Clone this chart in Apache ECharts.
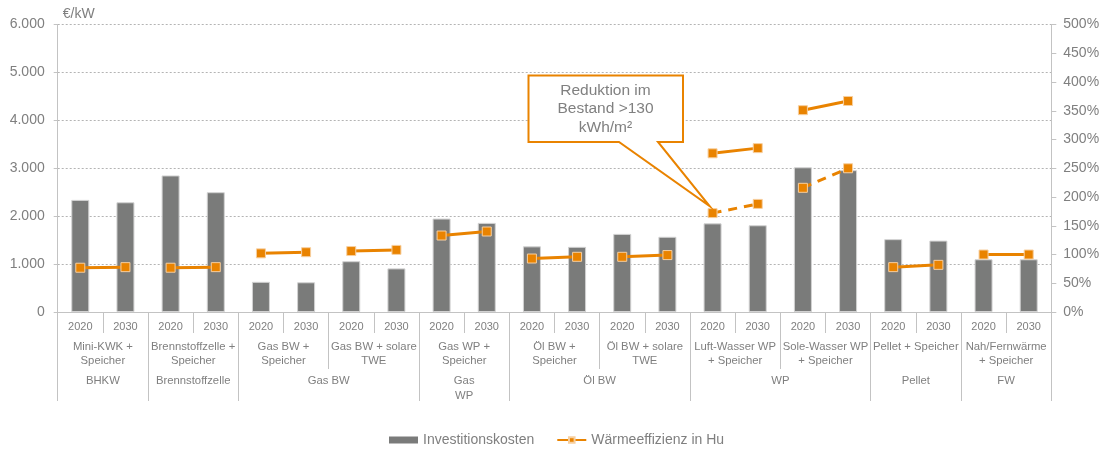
<!DOCTYPE html>
<html>
<head>
<meta charset="utf-8">
<script src="https://cdn.jsdelivr.net/npm/echarts@6/dist/echarts.min.js"></script>
<style>
  html, body { margin: 0; padding: 0; background: #ffffff; }
  #chart { width: 1106px; height: 449px; }
</style>
</head>
<body>
<div id="chart"></div>
<script>
// Year tick labels, one per bar
const years = ['2020', '2030', '2020', '2030', '2020', '2030', '2020', '2030', '2020', '2030', '2020',
               '2030', '2020', '2030', '2020', '2030', '2020', '2030', '2020', '2030', '2020', '2030'];

// Technology variants, each covering a 2020/2030 pair
const variants = ['Mini-KWK +\nSpeicher', 'Brennstoffzelle +\nSpeicher', 'Gas BW +\nSpeicher',
                  'Gas BW + solare\nTWE', 'Gas WP +\nSpeicher', 'Öl BW +\nSpeicher', 'Öl BW + solare\nTWE',
                  'Luft-Wasser WP\n+ Speicher', 'Sole-Wasser WP\n+ Speicher', 'Pellet + Speicher',
                  'Nah/Fernwärme\n+ Speicher'];

// Technology groups and how many bars each spans
const groupNames = ['BHKW', 'Brennstoffzelle', 'Gas BW', 'Gas\nWP', 'Öl BW', 'WP', 'Pellet', 'FW'];
const groupSpans = [2, 2, 4, 2, 4, 4, 2, 2];

// Investitionskosten in €/kW
const investCost = [2340, 2290, 2850, 2500, 630, 620, 1060, 910, 1950, 1860, 1370,
                    1360, 1630, 1570, 1850, 1810, 3020, 2960, 1520, 1490, 1100, 1100];

// Wärmeeffizienz in Hu (%)
const efficiency = [77, 78, 77, 78, 102, 104, 106, 108, 133, 140, 93,
                    96, 96, 99, 276, 285, 351, 367, 78, 82, 100, 100];

// Wärmeeffizienz nach Reduktion im Bestand >130 kWh/m² (%)
const efficiencyExisting = [null, null, null, null, null, null, null, null, null, null, null,
                            null, null, null, 172, 188, 216, 250, null, null, null, null];

const ORANGE = '#E98300';
const GREY_TEXT = '#7f7f7f';
const AXIS_GREY = '#c3c3c3';
const FONT = '"Liberation Sans", Arial, sans-serif';

// Group axis: 23 points on the bar boundaries, labels at each group's centre
const groupAxisLabels = new Array(years.length + 1).fill('');
const groupBoundaries = [0];
let pos = 0;
groupNames.forEach((g, i) => {
  groupAxisLabels[pos + groupSpans[i] / 2] = g;
  pos += groupSpans[i];
  groupBoundaries.push(pos);
});

const thousands = v => String(v).replace(/\B(?=(\d{3})+(?!\d))/g, '.');

// One line series per 2020/2030 pair so the pairs stay unconnected
function pairSeries(values, dashed) {
  const out = [];
  for (let k = 0; k < values.length; k += 2) {
    if (values[k] == null) continue;
    const data = values.map((v, i) => (i === k || i === k + 1) ? v : null);
    out.push({
      name: 'Wärmeeffizienz in Hu',
      type: 'line',
      xAxisIndex: 0,
      yAxisIndex: 1,
      data: data,
      connectNulls: false,
      symbol: 'rect',
      symbolSize: 9,
      showSymbol: true,
      z: 4,
      lineStyle: { color: ORANGE, width: 3, type: dashed ? [9, 7] : 'solid' },
      itemStyle: { color: ORANGE, borderColor: '#f7cf9f', borderWidth: 1 }
    });
  }
  return out;
}

const chart = echarts.init(document.getElementById('chart'));

const option = {
  animation: false,
  backgroundColor: '#ffffff',
  textStyle: { fontFamily: FONT, color: GREY_TEXT },
  grid: { left: 57.7, right: 54.7, top: 24.5, bottom: 137, containLabel: false },
  legend: {
    data: [
      { name: 'Investitionskosten', icon: 'rect', itemStyle: { borderWidth: 0 } },
      { name: 'Wärmeeffizienz in Hu' }
    ],
    left: 389,
    top: 433,
    padding: 0,
    itemWidth: 29,
    itemHeight: 7,
    itemGap: 22,
    textStyle: { fontFamily: FONT, fontSize: 14, color: GREY_TEXT }
  },
  xAxis: [
    {
      type: 'category',
      position: 'bottom',
      data: years,
      axisLine: { show: true, lineStyle: { color: AXIS_GREY, width: 1 } },
      axisTick: { show: true, length: 21, interval: 0, lineStyle: { color: AXIS_GREY } },
      axisLabel: { interval: 0, margin: 8, fontSize: 11, lineHeight: 13, color: GREY_TEXT, fontFamily: FONT },
      splitLine: { show: false }
    },
    {
      type: 'category',
      position: 'bottom',
      data: variants,
      axisLine: { show: false },
      axisTick: { show: true, length: 57, interval: 0, lineStyle: { color: AXIS_GREY } },
      axisLabel: { interval: 0, margin: 28, fontSize: 11.3, lineHeight: 14, color: GREY_TEXT, fontFamily: FONT },
      splitLine: { show: false }
    },
    {
      type: 'category',
      position: 'bottom',
      boundaryGap: false,
      data: groupAxisLabels,
      axisLine: { show: false },
      axisTick: {
        show: true,
        length: 89,
        interval: idx => groupBoundaries.indexOf(idx) !== -1,
        lineStyle: { color: AXIS_GREY }
      },
      axisLabel: { interval: 0, margin: 61, fontSize: 11.3, lineHeight: 15, color: GREY_TEXT, fontFamily: FONT },
      splitLine: { show: false }
    }
  ],
  yAxis: [
    {
      type: 'value',
      position: 'left',
      min: 0,
      max: 6000,
      interval: 1000,
      name: '€/kW',
      nameLocation: 'end',
      nameGap: 3,
      nameTextStyle: { fontSize: 14, color: GREY_TEXT, align: 'left', padding: [0, 0, 0, 5], fontFamily: FONT },
      axisLine: { show: true, lineStyle: { color: AXIS_GREY, width: 1 } },
      axisTick: { show: true, length: 4, lineStyle: { color: AXIS_GREY } },
      axisLabel: { margin: 13, fontSize: 14, color: GREY_TEXT, fontFamily: FONT, formatter: thousands },
      splitLine: { show: true, lineStyle: { color: '#b4b4b4', type: [2, 2], width: 1 } }
    },
    {
      type: 'value',
      position: 'right',
      min: 0,
      max: 500,
      interval: 50,
      axisLine: { show: true, lineStyle: { color: AXIS_GREY, width: 1 } },
      axisTick: { show: true, length: 5, lineStyle: { color: AXIS_GREY } },
      axisLabel: { margin: 12, fontSize: 14, color: GREY_TEXT, fontFamily: FONT, formatter: '{value}%' },
      splitLine: { show: false }
    }
  ],
  series: [
    {
      name: 'Investitionskosten',
      type: 'bar',
      xAxisIndex: 0,
      yAxisIndex: 0,
      data: investCost,
      barWidth: 18,
      z: 2,
      itemStyle: { color: '#7a7b7a', borderColor: '#d2d2d2', borderWidth: 1 }
    }
  ].concat(pairSeries(efficiency, false), pairSeries(efficiencyExisting, true))
};

chart.setOption(option);

// Callout pointing at the first "Bestand" efficiency value (Luft-Wasser WP 2020)
const calloutIndex = efficiencyExisting.findIndex(v => v != null);
const calloutSeries = option.series.findIndex(s =>
  s.type === 'line' && s.lineStyle.type !== 'solid' && s.data[calloutIndex] != null);
const p = chart.convertToPixel({ seriesIndex: calloutSeries }, [calloutIndex, efficiencyExisting[calloutIndex]]);
const tip = [p[0] - 3, p[1] - 7];

chart.setOption({
  graphic: [
    {
      type: 'polygon',
      z: 10,
      shape: { points: [[528.5, 75.5], [683, 75.5], [683, 142], [658, 142], tip, [619, 142], [528.5, 142]] },
      style: { fill: '#ffffff', stroke: ORANGE, lineWidth: 2 }
    },
    {
      type: 'text',
      z: 11,
      style: {
        text: 'Reduktion im\nBestand >130\nkWh/m²',
        x: 605.5,
        y: 109,
        align: 'center',
        verticalAlign: 'middle',
        textAlign: 'center',
        textVerticalAlign: 'middle',
        font: '15.5px ' + FONT,
        lineHeight: 18.3,
        fill: '#808080'
      }
    }
  ]
});
</script>
</body>
</html>
